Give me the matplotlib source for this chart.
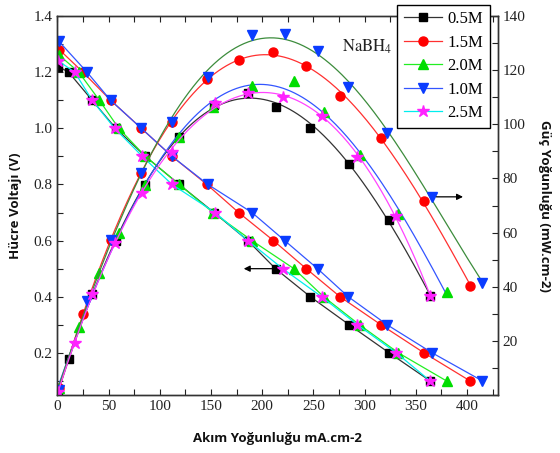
import matplotlib.pyplot as plt
import numpy as np
from matplotlib.ticker import MultipleLocator

plt.rcParams['font.family'] = 'Liberation Serif'
plt.rcParams['mathtext.fontset'] = 'stix'

labels = ['0.5M', '1.5M', '2.0M', '1.0M', '2.5M']

# current density (mA.cm-2), cell voltage (V), power density (mW.cm-2)
current_05 = [1, 11, 34, 57, 86, 119, 153, 186, 213, 247, 285, 324, 364]
volt_05 = [1.22, 1.2, 1.1, 1.0, 0.9, 0.8, 0.7, 0.6, 0.5, 0.4, 0.3, 0.2, 0.1]
power_05 = [1.2, 13.2, 37.4, 57.0, 77.4, 95.2, 107.1, 111.6, 106.5, 98.8, 85.5, 64.8, 36.4]

current_15 = [2, 25, 52, 82, 112, 146, 177, 211, 243, 276, 316, 358, 403]
volt_15 = [1.28, 1.2, 1.1, 1.0, 0.9, 0.8, 0.7, 0.6, 0.5, 0.4, 0.3, 0.2, 0.1]
power_15 = [2.6, 30.0, 57.2, 82.0, 100.8, 116.8, 123.9, 126.6, 121.5, 110.4, 94.8, 71.6, 40.3]

current_20 = [2, 21, 41, 60, 86, 119, 152, 190, 231, 260, 295, 333, 380]
volt_20 = [1.26, 1.2, 1.1, 1.0, 0.9, 0.8, 0.7, 0.6, 0.5, 0.4, 0.3, 0.2, 0.1]
power_20 = [2.5, 25.2, 45.1, 60.0, 77.4, 95.2, 106.4, 114.0, 116.0, 104.6, 88.6, 66.8, 38.0]

current_10 = [1.5, 29, 52, 82, 112, 147, 190, 222, 254, 284, 322, 366, 415]
volt_10 = [1.31, 1.2, 1.1, 1.0, 0.9, 0.8, 0.7, 0.6, 0.5, 0.4, 0.3, 0.2, 0.1]
power_10 = [2.0, 34.8, 57.2, 82.0, 100.8, 117.6, 133.0, 133.2, 127.0, 113.6, 96.6, 73.2, 41.5]

current_25 = [1, 17, 34, 56, 83, 112, 154, 186, 220, 258, 293, 331, 364]
volt_25 = [1.24, 1.2, 1.1, 1.0, 0.9, 0.8, 0.7, 0.6, 0.5, 0.4, 0.3, 0.2, 0.1]
power_25 = [1.2, 19.2, 37.4, 56.0, 74.7, 89.6, 107.8, 111.6, 110.0, 103.2, 87.9, 66.2, 36.4]

currents = [current_05, current_15, current_20, current_10, current_25]
volts = [volt_05, volt_15, volt_20, volt_10, volt_25]
powers = [power_05, power_15, power_20, power_10, power_25]

markers = ['s', 'o', '^', 'v', '*']
msizes = [6, 6.5, 7, 7, 9]
mcolors = ['black', '#ff0000', '#00dd00', '#0a3cff', '#ff22ff']
vcolors = ['#333333', '#ff3030', '#22ee22', '#3355ff', '#00eeee']
pcolors = ['#333333', '#ff3030', '#3355ff', '#3c8c3c', '#ff44ff']

fig = plt.figure(figsize=(5.6, 4.53), dpi=100)
ax = fig.add_axes([0.1023, 0.128, 0.7867, 0.8367])
ax2 = ax.twinx()

for cur, v, p, m, ms, mc, vc, pc, lab in zip(currents, volts, powers, markers, msizes,
                                              mcolors, vcolors, pcolors, labels):
    ax.plot(cur, v, color=vc, lw=0.9, marker=m, ms=ms, mfc=mc, mec=mc, label=lab)
    # smooth fitted power curve
    coef = np.polyfit(cur, p, 4)
    xs = np.linspace(cur[0], cur[-1], 200)
    ax2.plot(xs, np.polyval(coef, xs), color=pc, lw=0.9)
    ax2.plot(cur, p, ls='none', marker=m, ms=ms, mfc=mc, mec=mc)

ax.set_xlim(0, 430)
ax.set_ylim(0.05, 1.4)
ax2.set_ylim(0, 140)

ax.xaxis.set_major_locator(MultipleLocator(50))
ax.xaxis.set_minor_locator(MultipleLocator(25))
ax.yaxis.set_major_locator(MultipleLocator(0.2))
ax.yaxis.set_minor_locator(MultipleLocator(0.1))
ax2.yaxis.set_major_locator(MultipleLocator(20))
ax2.yaxis.set_minor_locator(MultipleLocator(10))
ax2.set_yticks([20, 40, 60, 80, 100, 120, 140])

ax.tick_params(which='both', direction='in', length=4, width=0.8, top=True,
               labelsize=11, colors='#222222')
ax2.tick_params(which='both', direction='in', length=4, width=0.8,
                labelsize=11, colors='#222222')
for sp in list(ax.spines.values()) + list(ax2.spines.values()):
    sp.set_linewidth(1.0)
    sp.set_color('#333333')

lab_font = dict(family='Open Sans', fontweight='bold', fontsize=9.5, color='#111111')
ax.set_xlabel('Akım Yoğunluğu mA.cm-2', labelpad=14, **lab_font)
ax.set_ylabel('Hücre Voltajı (V)', labelpad=8, **lab_font)
ax2.set_ylabel('Güç Yoğunluğu (mW.cm-2)', rotation=270, labelpad=18, **lab_font)

arrow = dict(arrowstyle='-|>', color='black', lw=0.9, mutation_scale=9, shrinkA=0, shrinkB=0)
ax.annotate('', xy=(182, 0.5), xytext=(210, 0.5), arrowprops=arrow)
ax2.annotate('', xy=(396, 73.2), xytext=(370, 73.2), arrowprops=arrow)

ax2.text(302, 128.5, r'$\mathrm{NaBH_4}$', ha='center', va='center', fontsize=12,
         color='#222222')

handles, labs = ax.get_legend_handles_labels()
leg = ax2.legend(handles, labs, loc='upper right', bbox_to_anchor=(0.982, 1.03),
                 borderaxespad=0, fontsize=12, frameon=True, fancybox=False,
                 framealpha=1, edgecolor='black', handlelength=2.3, labelspacing=0.45,
                 borderpad=0.4, handletextpad=0.3)
leg.get_frame().set_linewidth(1.0)

fig.savefig('out.png', dpi=100)
